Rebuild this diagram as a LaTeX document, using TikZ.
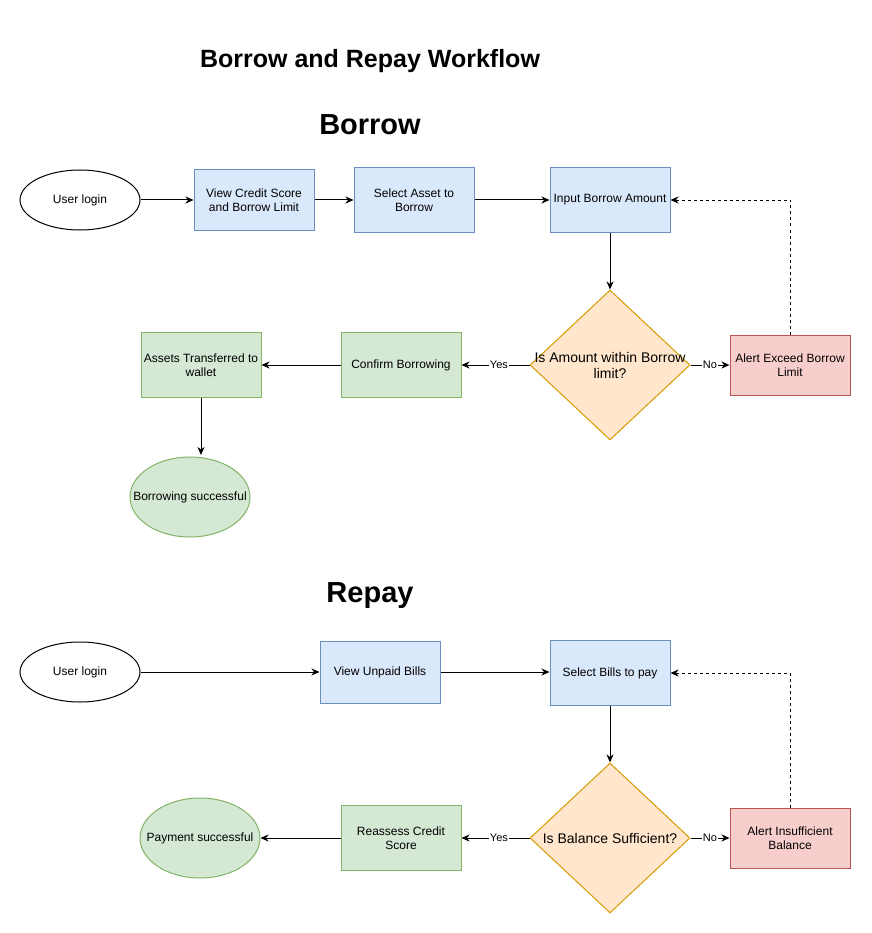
\documentclass[tikz,border=0pt]{standalone}
\usepackage{fontspec}
\setmainfont{Liberation Sans}
\usetikzlibrary{shapes.geometric,arrows.meta}
\definecolor{bluefill}{HTML}{DAE8FC}
\definecolor{blueline}{HTML}{6C8EBF}
\definecolor{greenfill}{HTML}{D5E8D4}
\definecolor{greenline}{HTML}{82B366}
\definecolor{redfill}{HTML}{F8CECC}
\definecolor{redline}{HTML}{B85450}
\definecolor{orangefill}{HTML}{FFE6CC}
\definecolor{orangeline}{HTML}{D79B00}

\begin{document}
\begin{tikzpicture}[x=1pt,y=-1pt,line width=1pt,
  boxtext/.style={align=center,font=\fontsize{12}{14}\selectfont,inner sep=0pt},
  bluebox/.style={boxtext,draw=blueline,fill=bluefill,minimum width=120pt,minimum height=65pt},
  greenbox/.style={boxtext,draw=greenline,fill=greenfill,minimum width=120pt,minimum height=65pt},
  redbox/.style={boxtext,draw=redline,fill=redfill,minimum width=120pt,minimum height=60pt},
  startend/.style={boxtext,ellipse,draw,minimum width=120pt,minimum height=60pt},
  finish/.style={ellipse,draw=greenline,fill=greenfill,minimum width=120pt,minimum height=80pt,inner sep=0pt,
    label={[boxtext]center:#1}},
  decision/.style={diamond,draw=orangeline,fill=orangefill,minimum width=160pt,minimum height=150pt,inner sep=0pt,
    label={[boxtext,font=\fontsize{14}{16}\selectfont]center:#1}},
  flow/.style={-{Stealth[length=8pt,width=7pt,inset=2.5pt]}},
  yesno/.style={fill=white,inner sep=1pt,font=\fontsize{11}{12}\selectfont}]
\useasboundingbox (0,0) rectangle (871,933);

% titles
\node (maintitle) at (370,61) {\fontsize{25}{29}\selectfont\bfseries Borrow and Repay Workflow};
\node (borrowtitle) at (370,125) {\fontsize{29}{33}\selectfont\bfseries Borrow};
\node (repaytitle) at (370,596) {\fontsize{29}{33}\selectfont\bfseries Repay};

% borrow
\node[startend] (login) at (80,200) {User login};
\node[bluebox,minimum height=60pt] (viewscore) at (254,200) {View Credit Score\\and Borrow Limit};
\node[bluebox] (selasset) at (414,200) {Select Asset to\\Borrow};
\node[bluebox] (inamount) at (610,200) {Input Borrow Amount};
\node[decision={Is Amount within Borrow\\limit?}] (chkamount) at (610,365) {};
\node[redbox] (alertlimit) at (790,365) {Alert Exceed Borrow\\Limit};
\node[greenbox] (confirm) at (401,365) {Confirm Borrowing};
\node[greenbox] (transfer) at (201,365) {Assets Transferred to\\wallet};
\node[finish={Borrowing successful}] (borrowok) at (190,497) {};

\draw[flow] (login) -- (viewscore);
\draw[flow] (viewscore) -- (selasset);
\draw[flow] (selasset) -- (inamount);
\draw[flow] (inamount) -- (chkamount);
\draw[flow] (chkamount) -- node[yesno] {No} (alertlimit);
\draw[flow] (chkamount) -- node[yesno,pos=0.45] {Yes} (confirm);
\draw[flow] (confirm) -- (transfer);
\draw[flow] (transfer.south) -- ++(0,57);
\draw[flow,dash pattern=on 3pt off 3pt,line width=0.8pt] (alertlimit.north) |- (inamount.east);

% repay
\node[startend] (login2) at (80,672) {User login};
\node[bluebox,minimum height=62pt] (viewbills) at (380,672) {View Unpaid Bills};
\node[bluebox] (selbills) at (610,673) {Select Bills to pay};
\node[decision={Is Balance Sufficient?}] (chkbalance) at (610,838) {};
\node[redbox] (alertbalance) at (790,838) {Alert Insufficient\\Balance};
\node[greenbox] (reassess) at (401,838) {Reassess Credit\\Score};
\node[finish={Payment successful}] (payok) at (200,838) {};

\draw[flow] (login2) -- (viewbills);
\draw[flow] (viewbills) -- (selbills.west |- viewbills);
\draw[flow] (selbills) -- (chkbalance);
\draw[flow] (chkbalance) -- node[yesno] {No} (alertbalance);
\draw[flow] (chkbalance) -- node[yesno,pos=0.45] {Yes} (reassess);
\draw[flow] (reassess) -- (payok);
\draw[flow,dash pattern=on 3pt off 3pt,line width=0.8pt] (alertbalance.north) |- (selbills.east);
\end{tikzpicture}
\end{document}
